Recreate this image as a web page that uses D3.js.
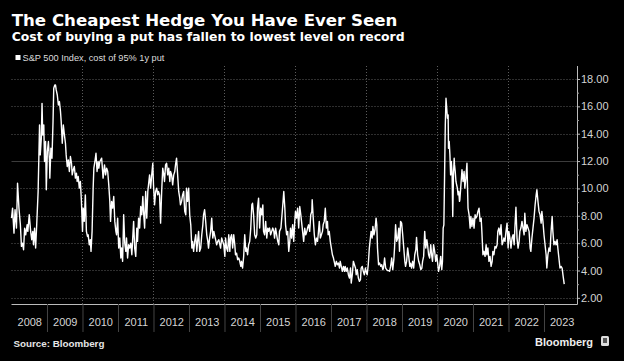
<!DOCTYPE html>
<html>
<head>
<meta charset="utf-8">
<script src="https://cdn.jsdelivr.net/npm/d3@7"></script>
<style>
  html, body { margin: 0; padding: 0; background: #000; }
  svg { display: block; }
</style>
</head>
<body>
<div id="chart"></div>
<script>
const title = "The Cheapest Hedge You Have Ever Seen";
const subtitle = "Cost of buying a put has fallen to lowest level on record";
const seriesName = "S&P 500 Index, cost of 95% 1y put";
const source = "Source: Bloomberg";

const years = d3.range(2008, 2024);
const yTicks = [2, 4, 6, 8, 10, 12, 14, 16, 18];
const yMinor = [3, 5, 7, 9, 11, 13, 15, 17];

// [decimal year, cost in %]
const putCost = [
  [2008.00, 7.83], [2008.03, 8.56], [2008.07, 6.73], [2008.10, 8.44], [2008.14, 7.10], [2008.17, 10.38],
  [2008.21, 8.56], [2008.25, 7.34], [2008.28, 5.76], [2008.31, 6.00], [2008.34, 5.52], [2008.37, 7.10],
  [2008.40, 6.61], [2008.44, 7.34], [2008.46, 6.86], [2008.50, 8.07], [2008.54, 6.86], [2008.57, 6.25],
  [2008.60, 6.86], [2008.62, 5.88], [2008.65, 7.10], [2008.68, 5.64], [2008.71, 7.34], [2008.75, 9.78],
  [2008.77, 12.21], [2008.79, 14.64], [2008.81, 12.45], [2008.84, 13.67], [2008.86, 16.22], [2008.88, 13.91],
  [2008.91, 14.64], [2008.93, 11.97], [2008.96, 13.43], [2008.98, 9.90], [2009.01, 12.70], [2009.04, 13.43],
  [2009.07, 11.97], [2009.08, 10.75], [2009.11, 12.94], [2009.14, 12.21], [2009.17, 14.89], [2009.19, 17.32],
  [2009.22, 17.56], [2009.24, 17.56], [2009.26, 17.20], [2009.29, 16.83], [2009.32, 16.10], [2009.35, 16.35],
  [2009.38, 15.62], [2009.40, 14.89], [2009.43, 13.30], [2009.46, 14.64], [2009.49, 13.91], [2009.52, 13.30],
  [2009.54, 12.45], [2009.57, 11.60], [2009.60, 12.09], [2009.63, 11.24], [2009.66, 12.33], [2009.69, 11.84],
  [2009.71, 10.99], [2009.74, 11.36], [2009.77, 11.60], [2009.80, 10.75], [2009.83, 11.11], [2009.85, 10.51],
  [2009.88, 10.87], [2009.91, 10.02], [2009.94, 10.51], [2009.97, 9.05], [2010.00, 6.86], [2010.02, 8.56],
  [2010.05, 7.59], [2010.08, 9.53], [2010.11, 6.86], [2010.14, 6.49], [2010.16, 6.61], [2010.19, 5.88],
  [2010.22, 6.25], [2010.24, 5.40], [2010.27, 6.86], [2010.30, 10.02], [2010.32, 11.48], [2010.35, 11.97],
  [2010.38, 12.57], [2010.41, 11.24], [2010.44, 11.97], [2010.46, 11.48],
  [2010.49, 11.97], [2010.54, 12.21], [2010.58, 10.75], [2010.62, 11.72], [2010.65, 10.99], [2010.68, 11.48],
  [2010.71, 11.24], [2010.74, 10.26], [2010.77, 9.05], [2010.79, 7.59], [2010.82, 9.05], [2010.85, 8.56],
  [2010.88, 9.41], [2010.91, 7.59], [2010.94, 6.86], [2010.96, 6.61], [2010.99, 7.83], [2011.02, 5.64],
  [2011.05, 6.37], [2011.08, 4.91], [2011.10, 5.64], [2011.13, 4.67], [2011.16, 8.07], [2011.19, 6.00],
  [2011.22, 5.40], [2011.24, 6.37], [2011.27, 4.91], [2011.30, 5.88], [2011.33, 5.64], [2011.36, 6.00],
  [2011.39, 5.15], [2011.41, 6.13], [2011.44, 7.59], [2011.47, 5.64], [2011.50, 5.03], [2011.53, 7.10],
  [2011.55, 6.13], [2011.58, 7.83], [2011.61, 7.10], [2011.64, 8.68], [2011.67, 8.07], [2011.70, 9.41],
  [2011.72, 8.32], [2011.75, 7.10], [2011.78, 9.78], [2011.81, 7.83], [2011.84, 9.78], [2011.86, 10.26],
  [2011.89, 10.99], [2011.92, 10.02], [2011.95, 10.99], [2011.98, 11.84], [2012.00, 10.26], [2012.03, 8.80],
  [2012.06, 9.78], [2012.09, 10.02], [2012.12, 9.53], [2012.14, 9.78], [2012.17, 9.53], [2012.20, 7.46],
  [2012.23, 9.78], [2012.26, 11.48], [2012.29, 10.99], [2012.31, 10.51], [2012.34, 11.72], [2012.37, 11.84],
  [2012.40, 10.99], [2012.43, 11.48], [2012.46, 10.51], [2012.48, 11.24], [2012.51, 10.99], [2012.54, 10.26],
  [2012.57, 10.99], [2012.60, 11.24], [2012.62, 11.72], [2012.65, 12.21], [2012.68, 10.99], [2012.71, 9.78],
  [2012.74, 9.29], [2012.76, 8.80], [2012.79, 9.05], [2012.82, 9.53], [2012.85, 9.78], [2012.88, 8.32],
  [2012.91, 8.07], [2012.93, 10.02], [2012.96, 9.05], [2012.99, 10.02], [2013.02, 8.07],
  [2013.05, 7.34], [2013.08, 5.64], [2013.10, 6.13], [2013.13, 5.40], [2013.16, 6.13], [2013.19, 6.61],
  [2013.22, 5.40], [2013.25, 6.37], [2013.27, 6.86], [2013.30, 5.40], [2013.33, 5.64], [2013.36, 6.61],
  [2013.39, 7.34], [2013.41, 8.07], [2013.44, 8.44], [2013.47, 7.59], [2013.50, 6.61], [2013.53, 6.13],
  [2013.55, 5.64], [2013.58, 6.37], [2013.61, 6.86], [2013.64, 7.83], [2013.67, 6.37], [2013.70, 6.86],
  [2013.72, 6.61], [2013.75, 6.25], [2013.78, 5.88], [2013.81, 6.13], [2013.84, 6.25], [2013.86, 6.00],
  [2013.89, 5.64], [2013.92, 6.37], [2013.95, 6.13], [2013.98, 5.88], [2014.01, 5.03], [2014.03, 6.37],
  [2014.06, 5.64], [2014.09, 5.40], [2014.12, 6.61], [2014.15, 5.40], [2014.17, 6.37], [2014.20, 6.61],
  [2014.23, 5.64], [2014.26, 6.61], [2014.29, 5.88], [2014.31, 5.15], [2014.34, 5.27], [2014.37, 4.79],
  [2014.40, 4.91], [2014.43, 4.67], [2014.46, 4.30], [2014.48, 4.67], [2014.51, 4.18], [2014.54, 5.03],
  [2014.57, 6.61], [2014.60, 5.40], [2014.62, 5.64], [2014.65, 5.15], [2014.68, 5.88], [2014.71, 6.13],
  [2014.74, 7.10], [2014.77, 8.80], [2014.79, 8.92], [2014.82, 8.07], [2014.85, 6.61], [2014.88, 6.37],
  [2014.91, 6.61], [2014.93, 8.56], [2014.96, 9.29], [2014.99, 7.10], [2015.02, 8.56], [2015.05, 8.07],
  [2015.08, 8.80], [2015.10, 6.86], [2015.13, 6.61], [2015.16, 7.59], [2015.19, 6.37], [2015.22, 7.10],
  [2015.24, 6.86], [2015.27, 7.10], [2015.30, 6.61], [2015.33, 6.86], [2015.36, 7.10], [2015.39, 6.86],
  [2015.41, 6.37], [2015.44, 7.10], [2015.47, 6.61], [2015.50, 6.13], [2015.53, 5.88], [2015.55, 6.86],
  [2015.59, 7.10], [2015.62, 8.07], [2015.65, 9.05], [2015.67, 9.78], [2015.70, 8.56], [2015.72, 7.34],
  [2015.75, 6.61], [2015.78, 6.86], [2015.81, 5.40], [2015.84, 6.13], [2015.86, 7.10], [2015.89, 6.37],
  [2015.92, 7.34], [2015.95, 6.13], [2015.98, 7.59], [2016.00, 8.32], [2016.03, 7.83], [2016.06, 8.56],
  [2016.09, 7.10], [2016.12, 8.68], [2016.15, 8.07], [2016.17, 7.59], [2016.20, 6.86], [2016.23, 6.13],
  [2016.26, 7.10], [2016.29, 6.61], [2016.32, 6.86], [2016.34, 7.10], [2016.37, 7.34], [2016.40, 6.86],
  [2016.43, 8.07], [2016.46, 8.32], [2016.47, 9.17], [2016.50, 7.83], [2016.53, 6.61], [2016.56, 5.88],
  [2016.59, 6.37], [2016.62, 6.13], [2016.64, 6.61], [2016.67, 7.59], [2016.70, 6.37], [2016.73, 6.61],
  [2016.76, 6.86], [2016.78, 7.34], [2016.81, 7.59], [2016.84, 8.56], [2016.87, 7.10], [2016.90, 7.59],
  [2016.92, 6.61], [2016.95, 6.86], [2016.98, 6.13], [2017.01, 5.64], [2017.04, 5.15], [2017.07, 4.91],
  [2017.09, 4.67], [2017.12, 4.30], [2017.15, 4.67], [2017.18, 4.42], [2017.21, 4.54], [2017.24, 4.18],
  [2017.26, 4.67], [2017.29, 4.30], [2017.32, 3.94], [2017.35, 4.30], [2017.38, 3.94], [2017.40, 4.30],
  [2017.43, 3.94], [2017.46, 4.18], [2017.49, 3.69], [2017.52, 3.45], [2017.55, 4.18], [2017.57, 3.08],
  [2017.60, 3.69], [2017.63, 4.67], [2017.66, 4.42], [2017.69, 4.18], [2017.71, 3.69], [2017.74, 4.06],
  [2017.77, 3.45], [2017.80, 3.21], [2017.83, 3.33], [2017.85, 4.18], [2017.88, 4.30], [2017.91, 3.94],
  [2017.94, 3.69], [2017.97, 4.18], [2018.00, 3.82], [2018.02, 3.69], [2018.05, 4.42], [2018.08, 5.64],
  [2018.13, 6.86], [2018.16, 6.37], [2018.18, 7.22], [2018.21, 6.61], [2018.24, 6.98], [2018.27, 7.83],
  [2018.29, 7.34], [2018.31, 5.64], [2018.34, 4.42], [2018.37, 4.54], [2018.40, 4.30], [2018.43, 4.42],
  [2018.46, 4.06], [2018.48, 4.18], [2018.51, 4.91], [2018.54, 4.18], [2018.57, 4.06], [2018.60, 3.99],
  [2018.63, 3.99], [2018.65, 3.94], [2018.68, 4.30], [2018.71, 4.91], [2018.74, 4.06], [2018.77, 4.79],
  [2018.79, 5.64], [2018.82, 7.34], [2018.85, 6.13], [2018.88, 6.37], [2018.91, 7.10], [2018.93, 5.40],
  [2018.96, 7.59], [2018.99, 7.46], [2019.02, 6.61], [2019.05, 5.64], [2019.08, 4.67], [2019.10, 4.30],
  [2019.13, 4.67], [2019.16, 5.64], [2019.19, 5.03], [2019.22, 4.30], [2019.24, 4.54], [2019.27, 4.18],
  [2019.30, 4.67], [2019.33, 4.18], [2019.36, 5.15], [2019.39, 5.52], [2019.41, 6.42], [2019.44, 5.15],
  [2019.47, 4.67], [2019.50, 4.42], [2019.53, 4.06], [2019.56, 4.18], [2019.58, 4.67], [2019.61, 5.03],
  [2019.64, 6.86], [2019.67, 5.64], [2019.70, 6.25], [2019.72, 5.88], [2019.75, 5.15], [2019.78, 4.91],
  [2019.81, 5.88], [2019.84, 5.03], [2019.86, 4.67], [2019.89, 5.88], [2019.92, 5.40], [2019.95, 4.67],
  [2019.98, 5.15], [2020.00, 4.67], [2020.03, 3.94], [2020.06, 4.30], [2020.09, 5.03], [2020.12, 4.06],
  [2020.14, 4.67], [2020.16, 7.10], [2020.18, 7.34], [2020.20, 10.99], [2020.22, 14.64], [2020.24, 16.59],
  [2020.26, 15.86], [2020.28, 15.13], [2020.30, 15.37], [2020.31, 12.94], [2020.33, 13.43], [2020.35, 12.45],
  [2020.37, 10.99], [2020.39, 11.97], [2020.41, 11.24], [2020.43, 7.95], [2020.45, 10.99], [2020.47, 12.21],
  [2020.48, 11.72], [2020.50, 11.24], [2020.52, 10.51], [2020.54, 10.26], [2020.56, 10.02], [2020.58, 9.53],
  [2020.60, 9.78], [2020.62, 9.05],
  [2020.63, 9.17], [2020.66, 10.26], [2020.69, 11.36], [2020.72, 10.51], [2020.75, 11.24], [2020.77, 10.02],
  [2020.80, 10.75], [2020.83, 11.84], [2020.86, 8.56], [2020.89, 8.07], [2020.92, 7.10], [2020.94, 7.95],
  [2020.97, 7.22], [2021.00, 7.83], [2021.03, 7.10], [2021.06, 8.07], [2021.08, 7.83], [2021.11, 7.95],
  [2021.14, 8.32], [2021.17, 8.56], [2021.20, 7.59], [2021.23, 7.83], [2021.25, 6.86], [2021.28, 5.15],
  [2021.31, 5.40], [2021.34, 5.03], [2021.37, 5.88], [2021.39, 5.15], [2021.42, 5.64], [2021.45, 4.67],
  [2021.48, 5.03], [2021.51, 4.30], [2021.54, 4.67], [2021.56, 5.40], [2021.59, 5.15], [2021.62, 5.76],
  [2021.65, 5.64], [2021.68, 5.88], [2021.70, 6.86], [2021.73, 7.10], [2021.76, 6.61], [2021.79, 7.34],
  [2021.82, 5.88], [2021.85, 6.13], [2021.87, 6.37], [2021.90, 6.13], [2021.93, 6.86], [2021.96, 7.46],
  [2021.99, 5.64], [2022.01, 6.86], [2022.04, 6.37], [2022.07, 5.64], [2022.10, 6.37], [2022.13, 6.61],
  [2022.16, 5.88], [2022.18, 7.10], [2022.21, 8.62], [2022.24, 6.37], [2022.27, 5.64], [2022.30, 6.13],
  [2022.32, 6.86], [2022.35, 7.10], [2022.38, 7.59], [2022.41, 7.10], [2022.44, 6.61], [2022.46, 8.19],
  [2022.49, 6.86], [2022.52, 7.34], [2022.55, 7.10], [2022.58, 6.86], [2022.61, 5.64], [2022.63, 5.40],
  [2022.66, 6.37], [2022.69, 7.10], [2022.72, 7.83], [2022.75, 8.80], [2022.78, 9.53], [2022.80, 9.90],
  [2022.83, 9.05], [2022.86, 8.32], [2022.89, 8.07], [2022.92, 7.46], [2022.94, 8.32], [2022.97, 7.59],
  [2023.00, 6.61], [2023.03, 5.88], [2023.06, 5.15], [2023.08, 4.18], [2023.11, 5.15], [2023.14, 5.64],
  [2023.17, 5.40], [2023.20, 6.86], [2023.23, 7.95], [2023.25, 6.86], [2023.28, 5.88], [2023.31, 6.13],
  [2023.34, 5.88], [2023.37, 6.25], [2023.39, 5.64], [2023.42, 4.91], [2023.45, 4.18], [2023.48, 4.30],
  [2023.51, 4.18], [2023.54, 3.57], [2023.57, 3.01]
];

const W = 624, H = 361;
const plot = { left: 11.5, right: 577, top: 66, bottom: 304 };
const tickFont = "'Liberation Sans', Arial, sans-serif";

const svg = d3.select("#chart").append("svg")
  .attr("width", W).attr("height", H)
  .style("background", "#000");

// shrink/grow a text's font size until it spans the wanted width
function fitText(sel, target) {
  const len = sel.node().getComputedTextLength();
  const fs = parseFloat(sel.attr("font-size"));
  sel.attr("font-size", (fs * target / len).toFixed(2));
  return sel;
}

const x = d3.scaleLinear().domain([2008, 2023.93]).range([plot.left, plot.right]);
const y = d3.scaleLinear().domain([1.55, 18.95]).range([plot.bottom, plot.top]);

// header
fitText(svg.append("text").attr("x", 11.7).attr("y", 26)
  .attr("font-family", "'DejaVu Sans', sans-serif").attr("font-weight", "bold")
  .attr("font-size", 18).attr("fill", "#fff").text(title), 386);

fitText(svg.append("text").attr("x", 11.7).attr("y", 41)
  .attr("font-family", "'DejaVu Sans', sans-serif").attr("font-weight", "bold")
  .attr("font-size", 13).attr("fill", "#fff").text(subtitle), 393);

svg.append("rect").attr("x", 15.5).attr("y", 55).attr("width", 5).attr("height", 5).attr("fill", "#fff");
fitText(svg.append("text").attr("x", 22.5).attr("y", 61)
  .attr("font-family", tickFont).attr("font-size", 9)
  .attr("fill", "#ddd").text(seriesName), 142);

// grid
const grid = svg.append("g");
grid.selectAll("line.h").data(yTicks).join("line")
  .attr("class", "h")
  .attr("x1", plot.left).attr("x2", plot.right)
  .attr("y1", d => Math.round(y(d)) + 0.5).attr("y2", d => Math.round(y(d)) + 0.5)
  .attr("stroke", d => d === 12 ? "#3c3c3c" : "#5c5c5c")
  .attr("stroke-dasharray", d => d === 12 ? null : "1,2");

grid.selectAll("line.v").data(years.filter(d => d % 2 === 0 && d > 2008)).join("line")
  .attr("class", "v")
  .attr("x1", d => Math.round(x(d)) + 0.5).attr("x2", d => Math.round(x(d)) + 0.5)
  .attr("y1", plot.top).attr("y2", plot.bottom)
  .attr("stroke", "#5c5c5c").attr("stroke-dasharray", "1,2");

// line
svg.append("path")
  .datum(putCost)
  .attr("fill", "none")
  .attr("stroke", "#fff")
  .attr("stroke-width", 1.4)
  .attr("stroke-linejoin", "round")
  .attr("d", d3.line().x(d => x(d[0])).y(d => y(d[1])));

// right axis
const yAxis = svg.append("g")
  .attr("transform", `translate(${plot.right},0)`)
  .call(d3.axisRight(y).tickValues(yTicks).tickSize(3).tickPadding(1).tickFormat(d3.format(".2f")));
yAxis.select(".domain").attr("stroke", "#bbb").attr("d", `M0.5,${plot.top}V${plot.bottom + 0.5}`);
yAxis.selectAll(".tick line").attr("stroke", "#bbb");
yAxis.selectAll(".tick text").attr("fill", "#d4d4d4").attr("font-family", tickFont).attr("font-size", 11);

const yMinorAxis = svg.append("g")
  .attr("transform", `translate(${plot.right},0)`)
  .call(d3.axisRight(y).tickValues(yMinor).tickSize(2).tickFormat(""));
yMinorAxis.select(".domain").remove();
yMinorAxis.selectAll(".tick line").attr("stroke", "#999");

// bottom axis: year separators and centred labels
const xAxis = svg.append("g")
  .attr("transform", `translate(0,${plot.bottom})`)
  .call(d3.axisBottom(x).tickValues(years.slice(1)).tickSize(28).tickFormat(""));
xAxis.select(".domain").attr("stroke", "#bbb").attr("d", `M${plot.left},0.5H${plot.right + 0.5}`);
xAxis.selectAll(".tick line").attr("stroke", "#444");

const xLabels = svg.append("g")
  .attr("transform", `translate(0,${plot.bottom})`)
  .call(d3.axisBottom(x).tickValues(years.map(d => d + 0.5)).tickSize(0).tickPadding(14)
    .tickFormat(d => Math.floor(d)));
xLabels.select(".domain").remove();
xLabels.selectAll(".tick text").attr("fill", "#d4d4d4").attr("font-family", tickFont).attr("font-size", 11);

// footer
fitText(svg.append("text").attr("x", 13.5).attr("y", 347)
  .attr("font-family", tickFont).attr("font-weight", "bold")
  .attr("font-size", 10).attr("fill", "#e6e6e6").text(source), 91);

fitText(svg.append("text").attr("x", 535).attr("y", 346)
  .attr("font-family", tickFont).attr("font-weight", "bold")
  .attr("font-size", 12).attr("fill", "#eee").text("Bloomberg"), 58);

const logo = svg.append("g").attr("transform", "translate(601,336)");
logo.append("rect").attr("width", 8).attr("height", 10).attr("rx", 1.5).attr("fill", "#ddd");
logo.append("rect").attr("x", 2).attr("y", 2).attr("width", 4).attr("height", 5).attr("fill", "#555");
</script>
</body>
</html>
